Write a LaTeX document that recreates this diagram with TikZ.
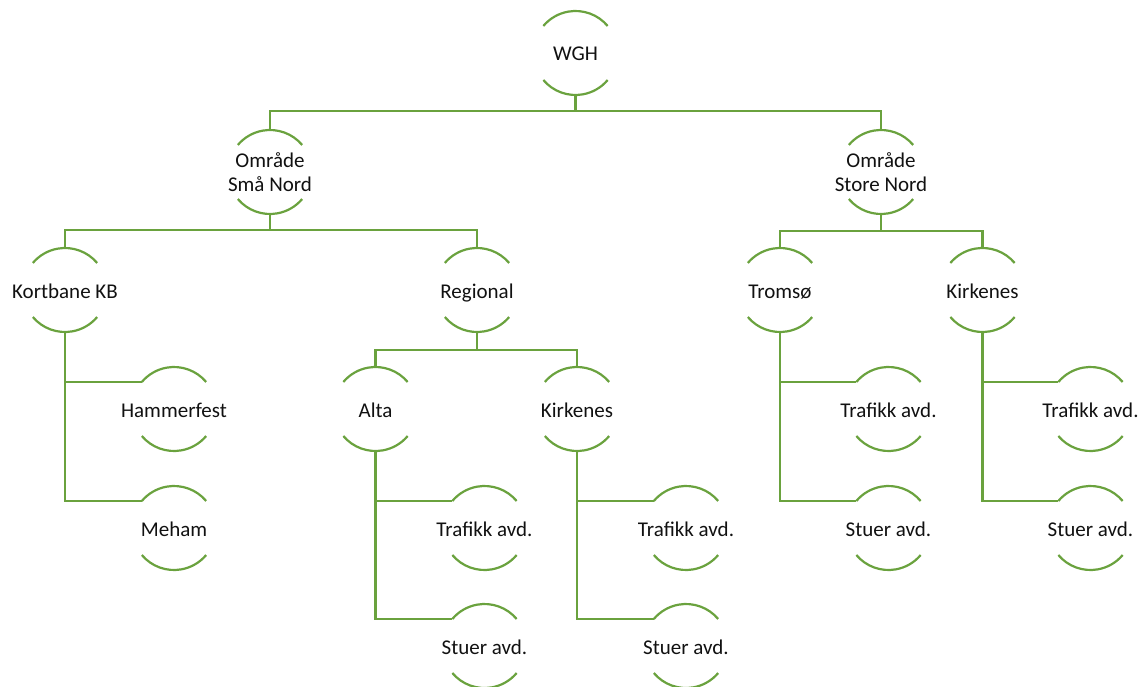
\documentclass[tikz,border=0pt]{standalone}
\usepackage{fontspec}
\setmainfont{Carlito}
\definecolor{arcgreen}{HTML}{6AA23E}
\definecolor{txt}{HTML}{111111}
\tikzset{
  ring/.style={circle, minimum size=84pt, inner sep=0pt, draw=none},
  lbl/.style={inner sep=0pt, align=center, text=txt, font=\fontsize{21pt}{23.5pt}\selectfont},
  arcline/.style={draw=arcgreen, line width=2.2pt},
  conn/.style={draw=arcgreen, line width=2.2pt}
}
\newcommand{\arcring}[3]{%
  \node[ring] (#1) at (#2,-#3) {};
  \draw[arcline] ([shift={(40:42pt)}]#1.center) arc[start angle=40, end angle=140, radius=42pt];
  \draw[arcline] ([shift={(220:42pt)}]#1.center) arc[start angle=220, end angle=320, radius=42pt];
}
% single-line label: baseline placed 8pt below the centre
\newcommand{\arcnode}[4]{%
  \arcring{#1}{#2}{#3}
  \node[lbl, anchor=base] (#1-t) at ([yshift=-8pt]#1.center) {#4};
}
% two-line label: centred
\newcommand{\arcnodeii}[4]{%
  \arcring{#1}{#2}{#3}
  \node[lbl] (#1-t) at (#1.center) {#4};
}
\begin{document}
\begin{tikzpicture}[x=1pt, y=1pt]
\useasboundingbox (0,0) rectangle (1145,-687);
% nodes
\arcnode{wgh}{575.5}{53}{WGH}
\arcnodeii{sma}{270}{172}{Område\\Små Nord}
\arcnodeii{store}{881}{172}{Område\\Store Nord}
\arcnode{kb}{65}{290}{Kortbane KB}
\arcnode{reg}{477}{290}{Regional}
\arcnode{tromso}{780}{290}{Tromsø}
\arcnode{kirkR}{982.5}{290}{Kirkenes}
\arcnode{hammer}{174}{409}{Hammerfest}
\arcnode{meham}{174}{528}{Meham}
\arcnode{alta}{375.5}{409}{Alta}
\arcnode{kirkM}{577}{409}{Kirkenes}
\arcnode{altaT}{484.5}{528}{Trafikk avd.}
\arcnode{altaS}{484.5}{646}{Stuer avd.}
\arcnode{kirkMT}{686}{528}{Trafikk avd.}
\arcnode{kirkMS}{686}{646}{Stuer avd.}
\arcnode{tromT}{888.5}{409}{Trafikk avd.}
\arcnode{tromS}{888.5}{528}{Stuer avd.}
\arcnode{kirkRT}{1090.5}{409}{Trafikk avd.}
\arcnode{kirkRS}{1090.5}{528}{Stuer avd.}
% bus connectors
\draw[conn] (wgh.south) -- ++(0,-16) -| (sma.north);
\draw[conn] (wgh.south) ++(0,-16) -| (store.north);
\draw[conn] (sma.south) -- ++(0,-16) -| (kb.north);
\draw[conn] (sma.south) ++(0,-16) -| (reg.north);
\draw[conn] (store.south) -- ++(0,-17) -| (tromso.north);
\draw[conn] (store.south) ++(0,-17) -| (kirkR.north);
\draw[conn] (reg.south) -- ++(0,-18) -| (alta.north);
\draw[conn] (reg.south) ++(0,-18) -| (kirkM.north);
% side connectors
\draw[conn] (kb.south) |- (meham.140);
\draw[conn] (kb.south |- hammer.140) -- (hammer.140);
\draw[conn] (alta.south) |- (altaS.140);
\draw[conn] (alta.south |- altaT.140) -- (altaT.140);
\draw[conn] (kirkM.south) |- (kirkMS.140);
\draw[conn] (kirkM.south |- kirkMT.140) -- (kirkMT.140);
\draw[conn] (tromso.south) |- (tromS.140);
\draw[conn] (tromso.south |- tromT.140) -- (tromT.140);
\draw[conn] (kirkR.south) |- (kirkRS.140);
\draw[conn] (kirkR.south |- kirkRT.140) -- (kirkRT.140);
\end{tikzpicture}
\end{document}
